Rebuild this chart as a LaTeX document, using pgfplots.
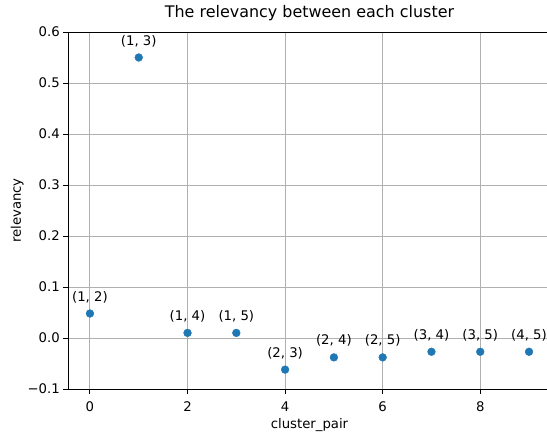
\documentclass[border=0pt]{standalone}
\usepackage{pgfplots}
\pgfplotsset{compat=1.18}
\usepackage{fontspec}
\setmainfont{DejaVu Sans}
\definecolor{mplblue}{HTML}{1F77B4}
\definecolor{mplgrid}{HTML}{B0B0B0}
\begin{document}
\begin{tikzpicture}
\path[use as bounding box, clip] (-68bp,-43bp) rectangle (479bp,389bp);
\begin{axis}[
  scale only axis,
  width=483bp, height=357bp,
  xmin=-0.45, xmax=9.45,
  ymin=-0.1, ymax=0.6,
  xtick={0,2,4,6,8},
  ytick={-0.1,0,0.1,0.2,0.3,0.4,0.5,0.6},
  yticklabels={−0.1,0.0,0.1,0.2,0.3,0.4,0.5,0.6},
  xticklabel style={yshift=-4.5bp},
  /pgf/number format/assume math mode=true,
  tick align=outside,
  tick pos=left,
  major tick length=4.7bp,
  tick style={black, line width=1bp},
  grid=major,
  grid style={mplgrid, line width=1bp},
  axis line style={black, line width=1bp},
  ticklabel style={font=\fontsize{13.3}{16}\selectfont, text=black},
  title={The relevancy between each cluster},
  title style={font=\fontsize{16}{19}\selectfont, at={(axis description cs:0.5,1)}, anchor=base, yshift=8.5bp},
  xlabel={cluster\_pair},
  ylabel={relevancy},
  label style={font=\fontsize{13.3}{16}\selectfont, text=black},
  xlabel style={at={(axis description cs:0.5,0)}, anchor=base, yshift=-39bp},
  ylabel style={at={(axis description cs:0,0.5)}, anchor=base, yshift=47bp},
  nodes near coords,
  point meta=explicit symbolic,
  every node near coord/.style={font=\fontsize{13.3}{16}\selectfont, text=black, anchor=base, inner sep=0pt, yshift=12.5bp},
]
\addplot[only marks, mark=*, mark size=3.9bp, mark options={fill=mplblue, draw=mplblue}] coordinates {
(0,0.048) [(1, 2)]
(1,0.550) [(1, 3)]
(2,0.010) [(1, 4)]
(3,0.010) [(1, 5)]
(4,-0.062) [(2, 3)]
(5,-0.038) [(2, 4)]
(6,-0.038) [(2, 5)]
(7,-0.027) [(3, 4)]
(8,-0.027) [(3, 5)]
(9,-0.027) [(4, 5)]
};
\end{axis}
\end{tikzpicture}
\end{document}
